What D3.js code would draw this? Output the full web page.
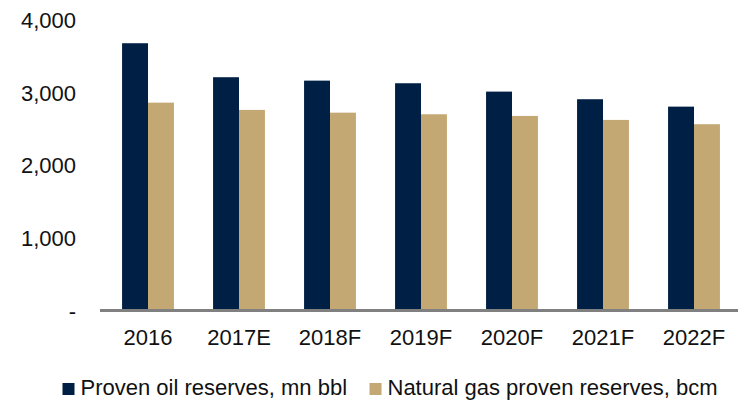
<!DOCTYPE html>
<html><head><meta charset="utf-8">
<script src="https://cdn.jsdelivr.net/npm/d3@7"></script>
<style>body{margin:0;background:#fff}svg{display:block}text{font-family:"Liberation Sans",Arial,sans-serif;fill:#111}</style>
</head><body><svg id="c" width="738" height="401"></svg>
<script>
const categories = ["2016","2017E","2018F","2019F","2020F","2021F","2022F"];
const oilValues = [3687,3219,3172,3136,3021,2916,2814];
const gasValues = [2869,2769,2731,2709,2686,2631,2572];
const seriesNames = ["Proven oil reserves, mn bbl","Natural gas proven reserves, bcm"];
const seriesColors = ["#001f45","#c4a874"];
const yTicks = [0,1000,2000,3000,4000];

const svg = d3.select("#c");
const x = d3.scaleBand().domain(categories).range([102.5,739.5]).paddingInner(0.43).paddingOuter(0.215);
const y = d3.scaleLinear().domain([0,4000]).range([311,20.5]);
const sub = d3.scaleBand().domain([0,1]).range([0,x.bandwidth()]);

const fmt = d3.format(",");
const yAxis = d3.axisLeft(y).tickValues(yTicks).tickSize(0).tickPadding(0)
  .tickFormat(d => d === 0 ? "-" : fmt(d));
const gy = svg.append("g").attr("transform","translate(76,0)").call(yAxis);
gy.select(".domain").remove();
gy.selectAll("text").attr("font-size",22).attr("font-family","Liberation Sans, Arial, sans-serif").attr("fill","#111");

const data = categories.map((c,i)=>({c, vals:[oilValues[i],gasValues[i]]}));
const g = svg.append("g");
data.forEach(d=>{
  d.vals.forEach((v,j)=>{
    g.append("rect")
      .attr("x", x(d.c)+sub(j))
      .attr("y", y(v))
      .attr("width", sub.bandwidth())
      .attr("height", y(0)-y(v))
      .attr("fill", seriesColors[j]);
  });
});

svg.append("line").attr("x1",100).attr("x2",738).attr("y1",310.5).attr("y2",310.5)
  .attr("stroke","#808080").attr("stroke-width",3);

const xAxis = d3.axisBottom(x).tickSize(0).tickPadding(0);
const gx = svg.append("g").attr("transform","translate(0,329)").call(xAxis);
gx.select(".domain").remove();
gx.selectAll("text").attr("font-size",22).attr("font-family","Liberation Sans, Arial, sans-serif").attr("fill","#111").attr("dy","0.71em");

const legendX = [62.5, 369.5];
seriesNames.forEach((n,i)=>{
  const lg = svg.append("g").attr("transform",`translate(${legendX[i]},0)`);
  lg.append("rect").attr("x",0).attr("y",383).attr("width",12).attr("height",12).attr("fill",seriesColors[i]);
  lg.append("text").attr("x",18).attr("y",395).attr("font-size",22).text(n);
});
</script></body></html>
